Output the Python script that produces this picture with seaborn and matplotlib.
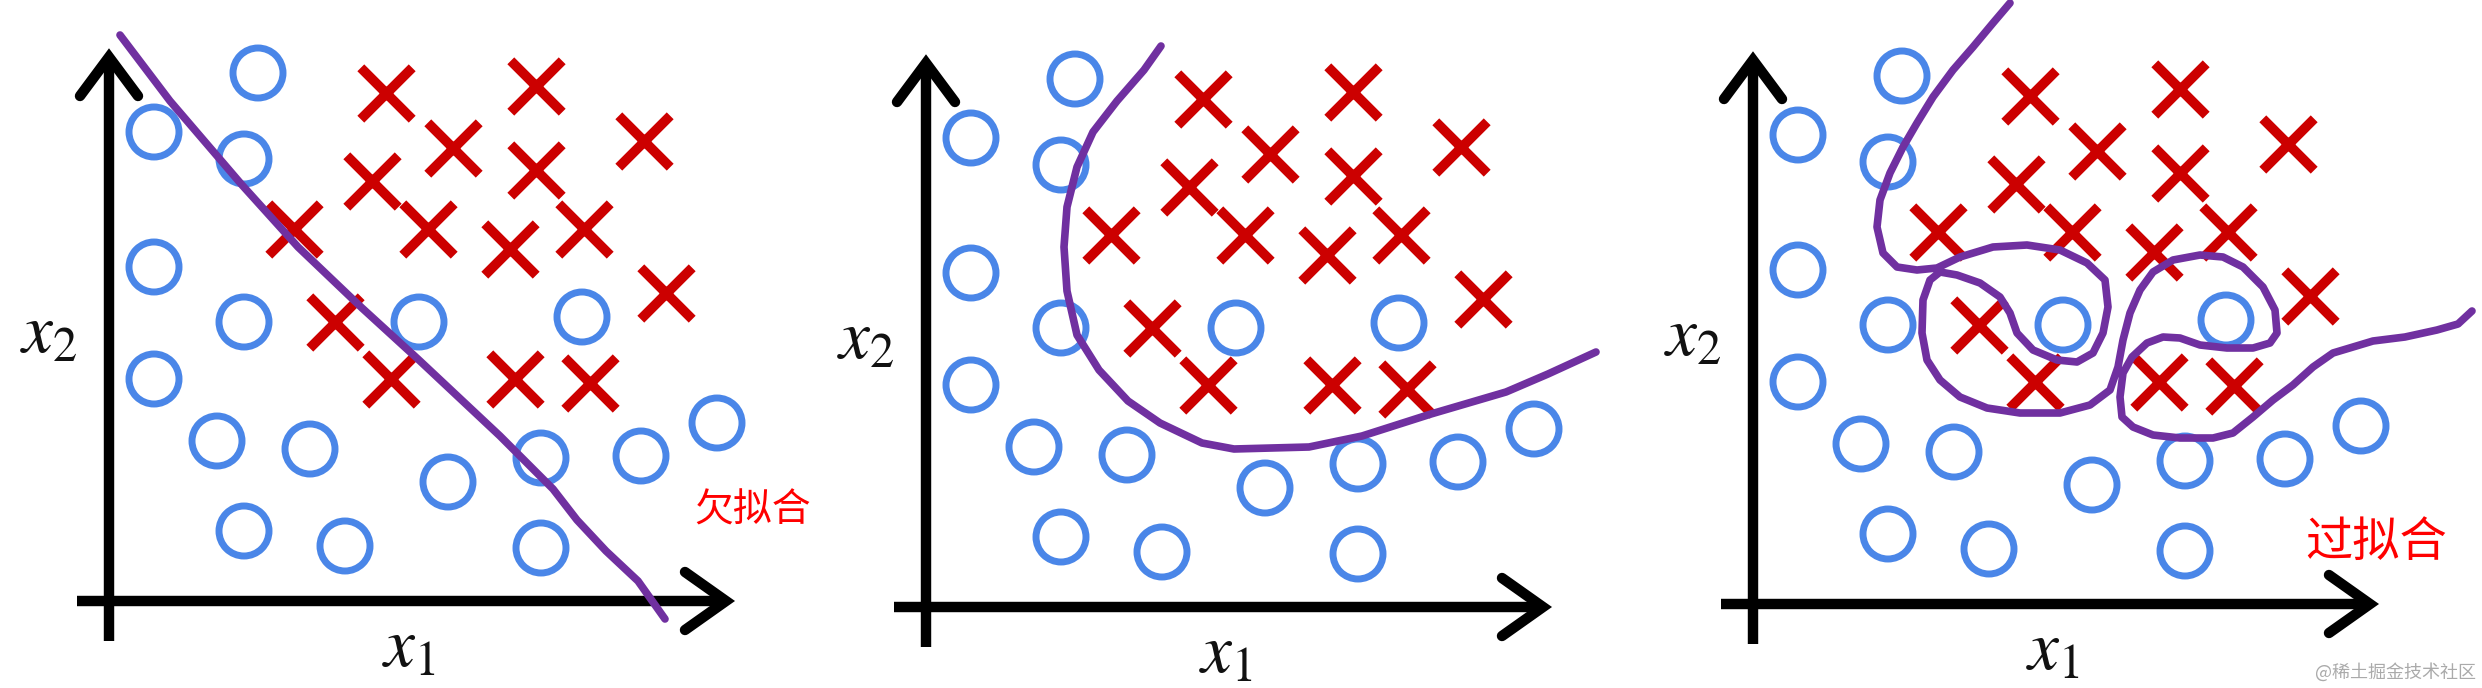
import matplotlib
matplotlib.use("Agg")
import matplotlib.pyplot as plt
import seaborn as sns

sns.set_theme(style="white")
plt.rcParams["font.family"] = ["Noto Sans CJK SC", "DejaVu Sans"]
plt.rcParams["mathtext.fontset"] = "stix"

# ---------------- data (x1, x2) ----------------
circle_x1 = [149, 45, 135, 45, 135, 45, 310, 473, 108, 201, 339, 432, 532, 608, 135, 236, 432]
circle_x2 = [528, 469, 442, 334, 279, 222, 279, 284, 160, 152, 119, 143, 145, 178, 70, 55, 53]
cross_x1 = [277, 427, 535, 344, 427, 263, 185, 319, 401, 475, 557, 226, 282, 406, 481]
cross_x2 = [508, 515, 460, 453, 431, 420, 372, 372, 352, 372, 308, 279, 222, 222, 218]

# under-fitting boundary (straight-ish line)
under_x1 = [11, 61, 133, 189, 253, 311, 391, 444, 468, 497, 529, 556]
under_x2 = [566, 500, 416, 354, 293, 240, 165, 112, 81, 50, 20, -18]

# good fit boundary (smooth curve)
good_x1 = [235, 218, 191, 167, 151, 141, 138, 141, 151, 173, 202, 234, 276, 308, 383, 436, 505, 580, 622, 670]
good_x2 = [561, 537, 506, 475, 440, 400, 360, 316, 272, 237, 206, 184, 164, 158, 160, 171, 193, 215, 233, 255]

# over-fitting boundary (wiggly curve with loops)
over_x1 = [257, 240, 220, 200, 180, 164, 150, 137, 127, 124, 130, 144, 164, 184,
           207, 240, 274, 307, 334, 352, 355, 350, 340, 324, 304, 280, 264, 257,
           247, 227, 204, 187, 177, 170, 169, 174, 187, 207, 234, 267, 307, 337,
           357, 365, 370, 377, 387, 400, 420, 447, 470, 490, 510, 522, 524, 517,
           500, 474, 447, 427, 410, 394, 379, 370, 367, 369, 380, 400, 427, 460,
           480, 500, 520, 540, 560, 580, 620, 652, 684, 705, 719]
over_x2 = [601, 581, 557, 534, 507, 481, 457, 431, 404, 377, 351, 337, 334, 336,
           347, 357, 359, 354, 341, 324, 297, 271, 251, 242, 244, 254, 271, 291,
           307, 321, 329, 332, 324, 304, 271, 244, 224, 207, 196, 191, 191, 199,
           214, 237, 264, 291, 314, 332, 344, 349, 347, 337, 317, 294, 271, 261,
           256, 256, 259, 266, 267, 261, 247, 231, 207, 187, 177, 169, 166, 166,
           171, 187, 204, 219, 237, 251, 263, 267, 274, 280, 293]

boundaries = [(under_x1, under_x2), (good_x1, good_x2), (over_x1, over_x2)]
fit_labels = ["欠拟合", None, "过拟合"]

# ---------------- style / layout ----------------
W, H = 2482, 688
BLUE = "#4a86e8"
RED = "#cc0000"
PURPLE = "#7030a0"
origins = [(109, 601), (926, 607), (1753, 604)]

fig = plt.figure(figsize=(W / 100, H / 100), dpi=100)
fig.patch.set_facecolor("white")

for i, (ox, oy) in enumerate(origins):
    left, right = -110, 728
    ax = fig.add_axes([(ox + left) / W, 0, (right - left) / W, 1])
    ax.set_xlim(left, right)
    ax.set_ylim(oy - H, oy)
    ax.axis("off")

    # axes with arrow heads
    ax.plot([-32, 617], [0, 0], color="black", lw=7.5, solid_capstyle="butt", zorder=1)
    ax.plot([0, 0], [-40, 544], color="black", lw=7.5, solid_capstyle="butt", zorder=1)
    ax.plot([576, 617, 576], [29, 0, -29], color="black", lw=7.5,
            solid_capstyle="round", solid_joinstyle="miter", zorder=1)
    ax.plot([-29, 0, 29], [505, 544, 505], color="black", lw=7.5,
            solid_capstyle="round", solid_joinstyle="miter", zorder=1)

    sns.scatterplot(x=circle_x1, y=circle_x2, marker="o", s=36 ** 2,
                    color=BLUE, facecolor="none", edgecolor=BLUE, linewidth=5,
                    ax=ax, zorder=2, clip_on=False)
    sns.scatterplot(x=cross_x1, y=cross_x2, marker="x", s=37 ** 2,
                    color=RED, linewidth=7, ax=ax, zorder=3, clip_on=False)

    bx, by = boundaries[i]
    sns.lineplot(x=bx, y=by, sort=False, estimator=None, color=PURPLE,
                 linewidth=5.5, ax=ax, zorder=4, solid_joinstyle="round",
                 solid_capstyle="round")
    for ln in ax.lines[-1:]:
        ln.set_clip_on(False)

    ax.text(-60, 268, r"$x_2$", fontsize=50, ha="center", va="center", color="#111111")
    ax.text(300, -46, r"$x_1$", fontsize=50, ha="center", va="center", color="#111111")

    if fit_labels[i]:
        if i == 0:
            ax.text(644, 90, fit_labels[i], fontsize=28, color="#ff0000",
                    ha="center", va="center")
        else:
            ax.text(623, 61, fit_labels[i], fontsize=34, color="#ff0000",
                    ha="center", va="center")

fig.text(2395 / W, 1 - 672 / H, "@稀土掘金技术社区", fontsize=13, color="#aaaaaa",
         ha="center", va="center")

fig.savefig("out.png", dpi=100, facecolor="white")
